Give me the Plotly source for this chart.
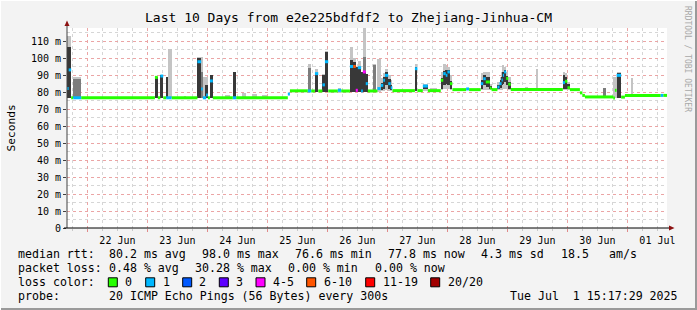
import pandas as pd
import plotly.graph_objects as go

# ---------------- data ----------------
YEAR = "2025-"
t_start = "06-21 15:50"
t_end = "07-01 15:50"
day_ticks = ["06-22", "06-23", "06-24", "06-25", "06-26", "06-27", "06-28", "06-29", "06-30", "07-01"]

# median rtt (ms), segment start times, and number of lost pings (of 20)
med_t = ["06-21 15:50", "06-21 16:30", "06-21 17:30", "06-21 18:20", "06-21 21:30",
         "06-23 03:00", "06-23 04:10", "06-23 05:10", "06-23 06:20", "06-23 07:30", "06-23 09:40",
         "06-23 20:00", "06-23 21:30", "06-23 22:10", "06-23 23:30", "06-24 00:10", "06-24 01:00",
         "06-24 02:10", "06-24 10:10", "06-24 11:30", "06-25 08:10", "06-25 09:00", "06-25 16:10",
         "06-25 17:30", "06-25 19:00", "06-25 20:20", "06-25 22:00", "06-25 23:00", "06-26 00:20",
         "06-26 04:10", "06-26 05:30", "06-26 09:00", "06-26 10:20", "06-26 11:20", "06-26 12:10",
         "06-26 13:30", "06-26 14:10", "06-26 15:20", "06-26 16:10", "06-26 20:00", "06-26 21:20",
         "06-26 22:20", "06-26 23:00", "06-27 00:20", "06-27 01:20", "06-27 02:00", "06-27 11:00",
         "06-27 12:00", "06-27 14:10", "06-27 16:10", "06-27 21:20", "06-27 22:20", "06-27 23:20",
         "06-28 00:00", "06-28 01:00", "06-28 02:00", "06-28 07:30", "06-28 08:40", "06-28 13:20",
         "06-28 14:20", "06-28 15:20", "06-28 17:00", "06-28 17:40", "06-28 20:00", "06-28 20:50",
         "06-28 21:40", "06-28 22:10", "06-28 22:40", "06-28 23:30", "06-29 00:20", "06-29 01:20",
         "06-29 22:10", "06-29 23:00", "06-30 00:00", "06-30 01:00", "06-30 05:00", "06-30 06:00",
         "06-30 07:00", "06-30 18:20", "06-30 19:00", "06-30 19:40", "06-30 21:30", "06-30 23:00",
         "07-01 13:20", "07-01 14:20"]
med_v = [82.0, 93.0, 76.6, 76.6, 76.6,
         88.6, 76.6, 89.4, 76.6, 76.6, 76.6,
         97.8, 81.8, 76.6, 78.2, 76.6, 86.5,
         76.6, 76.6, 76.6, 78.8, 80.7, 80.6,
         80.6, 90.8, 80.6, 84.2, 97.8, 80.6,
         81.0, 80.6, 95.0, 95.0, 81.0, 94.3,
         80.6, 91.8, 84.9, 80.6, 82.0, 83.9,
         86.9, 89.8, 84.9, 82.5, 80.8, 93.7,
         80.8, 83.5, 80.8, 86.9, 90.8, 89.8,
         91.8, 84.9, 81.4, 81.8, 81.4, 84.9,
         87.8, 85.9, 82.3, 81.4, 82.9, 84.9,
         87.0, 89.8, 91.8, 88.0, 84.6, 81.4,
         85.5, 86.3, 82.5, 81.4, 79.5, 78.0,
         77.1, 76.5, 81.0, 89.8, 77.0, 78.0,
         78.0, 78.0]
med_loss = [1, 1, 0, 1, 0,
            0, 0, 1, 0, 1, 0,
            1, 1, 1, 1, 0, 1,
            0, 1, 0, 1, 0, 1,
            0, 1, 0, 1, 1, 0,
            1, 0, 1, 7, 4, 1,
            1, 4, 1, 0, 1, 1,
            1, 1, 1, 1, 0, 1,
            0, 1, 0, 0, 1, 1,
            1, 0, 0, 1, 0, 1,
            1, 0, 0, 0, 1, 1,
            1, 1, 1, 0, 0, 0,
            1, 0, 0, 0, 0, 0,
            0, 0, 0, 1, 0, 0,
            1, 0]

# smoke: outer spread of the 20 pings (light)
light_t0 = ["06-21 15:50", "06-21 18:20", "06-23 08:20", "06-23 14:40", "06-23 20:00", "06-23 22:10",
            "06-24 07:00", "06-24 13:50", "06-24 17:50", "06-24 21:50", "06-25 16:10", "06-25 19:00",
            "06-25 22:00", "06-25 23:00", "06-26 04:10", "06-26 09:00", "06-26 10:20", "06-26 12:10",
            "06-26 14:10", "06-26 18:10", "06-26 20:00", "06-26 21:20", "06-26 22:20", "06-26 23:00",
            "06-27 00:20", "06-27 01:20", "06-27 11:00", "06-27 14:10", "06-27 17:00", "06-27 21:20",
            "06-27 22:20", "06-27 23:20", "06-28 00:00", "06-28 01:00", "06-28 07:30", "06-28 13:20",
            "06-28 14:20", "06-28 15:20", "06-28 17:00", "06-28 20:00", "06-28 20:50", "06-28 21:40",
            "06-28 22:10", "06-28 22:40", "06-28 23:30", "06-29 00:20", "06-29 07:00", "06-29 11:20",
            "06-29 15:40", "06-29 19:40", "06-29 22:10", "06-29 23:00", "06-30 00:00", "06-30 18:20",
            "06-30 19:40", "07-01 01:20"]
light_t1 = ["06-21 17:30", "06-21 21:30", "06-23 09:40", "06-23 15:20", "06-23 22:10", "06-24 00:10",
            "06-24 09:00", "06-24 15:30", "06-24 19:50", "06-24 23:50", "06-25 17:30", "06-25 20:20",
            "06-25 23:00", "06-26 00:20", "06-26 05:30", "06-26 10:20", "06-26 11:20", "06-26 13:30",
            "06-26 15:20", "06-26 19:30", "06-26 21:20", "06-26 22:20", "06-26 23:00", "06-27 00:20",
            "06-27 01:20", "06-27 02:00", "06-27 12:00", "06-27 16:10", "06-27 19:40", "06-27 22:20",
            "06-27 23:20", "06-28 00:00", "06-28 01:00", "06-28 02:00", "06-28 08:40", "06-28 14:20",
            "06-28 15:20", "06-28 17:00", "06-28 17:40", "06-28 20:50", "06-28 21:40", "06-28 22:10",
            "06-28 22:40", "06-28 23:30", "06-29 00:20", "06-29 01:20", "06-29 08:20", "06-29 12:20",
            "06-29 17:40", "06-29 21:00", "06-29 23:00", "06-30 00:00", "06-30 01:00", "06-30 19:40",
            "06-30 21:30", "07-01 02:10"]
light_lo = [76.5, 76.5, 76.5, 76.5, 76.5, 76.5,
            76.5, 76.5, 76.5, 76.5, 80.0, 80.0,
            80.0, 80.0, 79.5, 80.0, 80.0, 80.0,
            80.0, 80.0, 80.0, 80.5, 80.5, 81.0,
            80.5, 80.5, 80.5, 80.5, 80.5, 81.0,
            82.0, 82.0, 81.5, 81.0, 81.0, 81.0,
            81.0, 81.0, 81.0, 81.0, 81.0, 81.0,
            82.0, 82.0, 81.5, 81.0, 81.0, 81.0,
            81.0, 81.0, 81.0, 81.0, 81.0, 76.5,
            76.5, 78.0]
light_hi = [113.0, 89.0, 105.5, 77.8, 100.8, 89.0,
            78.5, 79.4, 79.0, 78.0, 96.5, 93.7,
            90.5, 104.0, 82.5, 106.5, 100.0, 98.0,
            117.5, 96.5, 99.6, 88.0, 91.0, 93.5,
            90.0, 87.0, 96.7, 85.0, 82.5, 92.0,
            96.7, 96.0, 95.0, 90.0, 82.5, 91.0,
            92.0, 91.5, 85.0, 86.0, 89.0, 92.0,
            95.7, 95.0, 92.0, 89.0, 83.0, 93.7,
            82.5, 82.5, 91.8, 91.0, 86.0, 88.8,
            92.0, 88.2]

# smoke: intermediate density (medium grey)
mid_t0 = ["06-21 18:20", "06-23 21:30", "06-25 16:10", "06-26 14:10", "06-26 18:10", "06-30 14:20"]
mid_t1 = ["06-21 21:30", "06-23 22:10", "06-25 17:30", "06-26 15:20", "06-26 19:30", "06-30 15:20"]
mid_lo = [76.5, 76.5, 80.5, 80.0, 80.0, 77.0]
mid_hi = [87.7, 92.0, 94.0, 100.8, 96.0, 82.4]

# smoke: core of the ping distribution (dark)
dark_t0 = ["06-21 15:50", "06-23 03:00", "06-23 05:10", "06-23 07:30", "06-23 20:00", "06-23 23:00",
           "06-24 01:00", "06-24 10:10", "06-25 19:00", "06-25 22:00", "06-25 23:00", "06-26 09:00",
           "06-26 10:20", "06-26 11:20", "06-26 12:10", "06-26 13:30", "06-26 14:10", "06-26 15:20",
           "06-26 21:20", "06-26 22:20", "06-26 23:00", "06-27 00:20", "06-27 01:20", "06-27 11:00",
           "06-27 14:10", "06-27 21:20", "06-27 22:20", "06-27 23:20", "06-28 00:00", "06-28 01:00",
           "06-28 13:20", "06-28 14:20", "06-28 15:20", "06-28 17:00", "06-28 20:00", "06-28 20:50",
           "06-28 21:40", "06-28 22:10", "06-28 22:40", "06-28 23:30", "06-29 00:20", "06-29 22:10",
           "06-29 23:00", "06-30 00:00", "06-30 19:40"]
dark_t1 = ["06-21 17:30", "06-23 04:10", "06-23 06:20", "06-23 08:20", "06-23 21:30", "06-24 00:10",
           "06-24 02:10", "06-24 11:30", "06-25 20:20", "06-25 23:00", "06-26 00:20", "06-26 10:20",
           "06-26 11:20", "06-26 12:10", "06-26 13:30", "06-26 14:10", "06-26 15:20", "06-26 16:10",
           "06-26 22:20", "06-26 23:00", "06-27 00:20", "06-27 01:20", "06-27 02:00", "06-27 12:00",
           "06-27 16:10", "06-27 22:20", "06-27 23:20", "06-28 00:00", "06-28 01:00", "06-28 02:00",
           "06-28 14:20", "06-28 15:20", "06-28 17:00", "06-28 17:40", "06-28 20:50", "06-28 21:40",
           "06-28 22:10", "06-28 22:40", "06-28 23:30", "06-29 00:20", "06-29 01:20", "06-29 23:00",
           "06-30 00:00", "06-30 01:00", "06-30 21:30"]
dark_lo = [76.5, 76.5, 76.5, 76.5, 76.5, 76.5,
           76.5, 76.5, 80.0, 80.0, 80.0, 80.0,
           80.0, 80.0, 80.0, 80.0, 80.0, 80.0,
           81.0, 82.0, 84.0, 82.0, 81.0, 80.5,
           81.5, 82.0, 84.0, 85.0, 84.0, 81.5,
           82.0, 84.0, 83.0, 81.5, 81.5, 82.5,
           84.0, 85.0, 86.0, 84.0, 82.0, 82.0,
           82.0, 81.5, 76.5]
dark_hi = [106.5, 89.0, 89.8, 89.0, 99.8, 84.0,
           90.0, 92.0, 91.2, 89.8, 103.3, 99.0,
           97.6, 95.0, 94.7, 92.0, 92.0, 90.8,
           85.5, 89.0, 91.5, 87.5, 84.0, 94.7,
           84.0, 88.5, 92.5, 93.0, 93.0, 86.5,
           87.0, 90.0, 89.0, 83.5, 84.0, 87.0,
           89.0, 92.0, 93.0, 89.5, 86.0, 89.8,
           89.0, 84.5, 91.4]

y_tick_vals = [0, 10, 20, 30, 40, 50, 60, 70, 80, 90, 100, 110]
y_tick_text = ["0", "10 m", "20 m", "30 m", "40 m", "50 m", "60 m", "70 m", "80 m", "90 m", "100 m", "110 m"]

loss_labels = ["0", "1", "2", "3", "4-5", "6-10", "11-19", "20/20"]
loss_upper = [0, 1, 2, 3, 5, 10, 19, 20]
loss_colors = ["#26ff00", "#00b8ff", "#0059ff", "#5e00ff", "#ff00ff", "#ff5500", "#ff0000", "#a10000"]

title_text = "Last 10 Days from e2e225bdfdf2 to Zhejiang-Jinhua-CM"
stats_rtt = ["80.2 ms avg", "98.0 ms max", "76.6 ms min", "77.8 ms now", "4.3 ms sd", "18.5", "am/s"]
stats_loss = ["0.48 % avg", "30.28 % max", "0.00 % min", "0.00 % now"]
probe_text = "20 ICMP Echo Pings (56 Bytes) every 300s"
stamp_text = "Tue Jul  1 15:17:29 2025"

# ---------------- figure ----------------
W, H = 697, 310
PL, PT, PW, PH = 67, 28, 600, 200
MONO = "DejaVu Sans Mono"


def ts(s):
    return pd.Timestamp(YEAR + s)


def px(x):
    return (x - PL) / PW


def py(y):
    return (PT + PH - y) / PH


def nb(s):
    return s.replace(" ", "\u00a0")


fig = go.Figure()


def add_band(t0s, t1s, lo, hi, color):
    a = [ts(t) for t in t0s]
    b = [ts(t) for t in t1s]
    centers = [x + (y - x) / 2 for x, y in zip(a, b)]
    widths = [(y - x).total_seconds() * 1000 for x, y in zip(a, b)]
    fig.add_trace(go.Bar(x=centers, y=[h - l for l, h in zip(lo, hi)], base=lo, width=widths,
                         marker=dict(color=color, line=dict(width=0), opacity=1),
                         hoverinfo="skip", showlegend=False))


add_band(light_t0, light_t1, light_lo, light_hi, "#c4c4c4")
add_band(mid_t0, mid_t1, mid_lo, mid_hi, "#7c7c7c")
add_band(dark_t0, dark_t1, dark_lo, dark_hi, "#383838")


def loss_class(n):
    for i, u in enumerate(loss_upper):
        if n <= u:
            return i
    return len(loss_upper) - 1


# median drawn as short horizontal bars per sample (no vertical connectors)
times = [ts(t) for t in med_t] + [ts(t_end)]
for ci in range(len(loss_labels)):
    xs, ys = [], []
    for i, (v, l) in enumerate(zip(med_v, med_loss)):
        if loss_class(l) == ci:
            xs += [times[i], times[i + 1], None]
            ys += [v, v, None]
    if xs:
        fig.add_trace(go.Scatter(x=xs, y=ys, mode="lines", line=dict(color=loss_colors[ci], width=3),
                                 hoverinfo="skip", showlegend=False))

shapes = []
# frame
shapes.append(dict(type="line", xref="paper", yref="paper", x0=px(696), x1=px(696), y0=py(0), y1=py(310),
                   line=dict(color="#9a9a9a", width=2)))
shapes.append(dict(type="line", xref="paper", yref="paper", x0=px(0), x1=px(697), y0=py(309), y1=py(309),
                   line=dict(color="#9a9a9a", width=2)))
shapes.append(dict(type="line", xref="paper", yref="paper", x0=px(0.5), x1=px(0.5), y0=py(0), y1=py(310),
                   line=dict(color="#ffffff", width=1)))
shapes.append(dict(type="line", xref="paper", yref="paper", x0=px(0), x1=px(697), y0=py(0.5), y1=py(0.5),
                   line=dict(color="#ffffff", width=1)))
# axes with arrows
shapes.append(dict(type="line", xref="paper", yref="paper", x0=px(67), x1=px(67), y0=py(228), y1=py(25),
                   line=dict(color="#404040", width=1)))
shapes.append(dict(type="line", xref="paper", yref="paper", x0=px(64), x1=px(670), y0=py(228), y1=py(228),
                   line=dict(color="#000000", width=1)))
shapes.append(dict(type="path", xref="paper", yref="paper",
                   path=f"M {px(67)},{py(20.5)} L {px(64.5)},{py(26)} L {px(69.5)},{py(26)} Z",
                   fillcolor="#8b1010", line=dict(width=0)))
shapes.append(dict(type="path", xref="paper", yref="paper",
                   path=f"M {px(674.5)},{py(228)} L {px(669)},{py(225.5)} L {px(669)},{py(230.5)} Z",
                   fillcolor="#8b1010", line=dict(width=0)))

annotations = []


def text(x, y, s, anchor="left", size=11.6, color="#000000", angle=0):
    annotations.append(dict(xref="paper", yref="paper", x=px(x), y=py(y), text=nb(s), showarrow=False,
                            xanchor=anchor, yanchor="middle", textangle=angle,
                            font=dict(family=MONO, size=size, color=color)))


text(348.5, 18, title_text, anchor="center", size=13)
text(10.5, 128, "Seconds", anchor="center", size=11.2, angle=-90)
text(688, 59, "RRDTOOL / TOBI OETIKER", anchor="center", size=8, color="#a8a8a8", angle=90)

rows_y = [254.3, 268.3, 282.3, 296.0]
text(16, rows_y[0], "median rtt:")
text(16, rows_y[1], "packet loss:")
text(16, rows_y[2], "loss color:")
text(16, rows_y[3], "probe:")
for x, s in zip([107.3, 200.3, 293.3, 386.3, 479.3, 558.5, 607.3], stats_rtt):
    text(x, rows_y[0], s)
for x, s in zip([107.3, 193.3, 286.3, 372.5], stats_loss):
    text(x, rows_y[1], s)
text(107.3, rows_y[3], probe_text)
text(680, rows_y[3], stamp_text, anchor="right")

box_x = [108.3, 145.7, 182.7, 219.3, 256.0, 306.7, 365.7, 430.7]
lab_x = [123.3, 160.7, 197.3, 234.3, 271.0, 321.7, 380.7, 445.7]
for bx, lx, lab, col in zip(box_x, lab_x, loss_labels, loss_colors):
    shapes.append(dict(type="rect", xref="paper", yref="paper", x0=px(bx), x1=px(bx + 9),
                       y0=py(rows_y[2] - 4.5), y1=py(rows_y[2] + 4.5),
                       fillcolor=col, line=dict(color="#000000", width=1)))
    text(lx, rows_y[2], lab)

fig.update_layout(
    width=W, height=H,
    margin=dict(l=PL, r=W - PL - PW, t=PT, b=H - PT - PH, pad=0),
    paper_bgcolor="#f3f3f3", plot_bgcolor="#ffffff",
    barmode="overlay", bargap=0,
    showlegend=False,
    font=dict(family=MONO, size=10, color="#000000"),
    shapes=shapes, annotations=annotations,
    xaxis=dict(type="date", range=[ts(t_start), ts(t_end)],
               tickvals=[ts(d + " 00:00") for d in day_ticks],
               tickformat="%d %b", ticklabelshift=30,
               showgrid=True, gridcolor="#eba5a5", griddash="dot", gridwidth=1,
               ticks="outside", ticklen=3, tickcolor="#e08a8a",
               showline=False, zeroline=False, tickfont=dict(family=MONO, size=10),
               minor=dict(dtick=6 * 3600 * 1000, tick0=ts("06-22 00:00"), showgrid=True,
                          gridcolor="#d6d6d6", griddash="dot", ticks="outside", ticklen=2,
                          tickcolor="#c8c8c8")),
    yaxis=dict(range=[0, PH / 1.7], tickvals=y_tick_vals, ticktext=y_tick_text,
               showgrid=True, gridcolor="#eba5a5", griddash="dot", gridwidth=1,
               ticks="outside", ticklen=3, tickcolor="#404040",
               showline=False, zeroline=False, tickfont=dict(family=MONO, size=10),
               minor=dict(dtick=5, tick0=0, showgrid=True, gridcolor="#d6d6d6", griddash="dot")),
)

fig.write_html("out.html")
